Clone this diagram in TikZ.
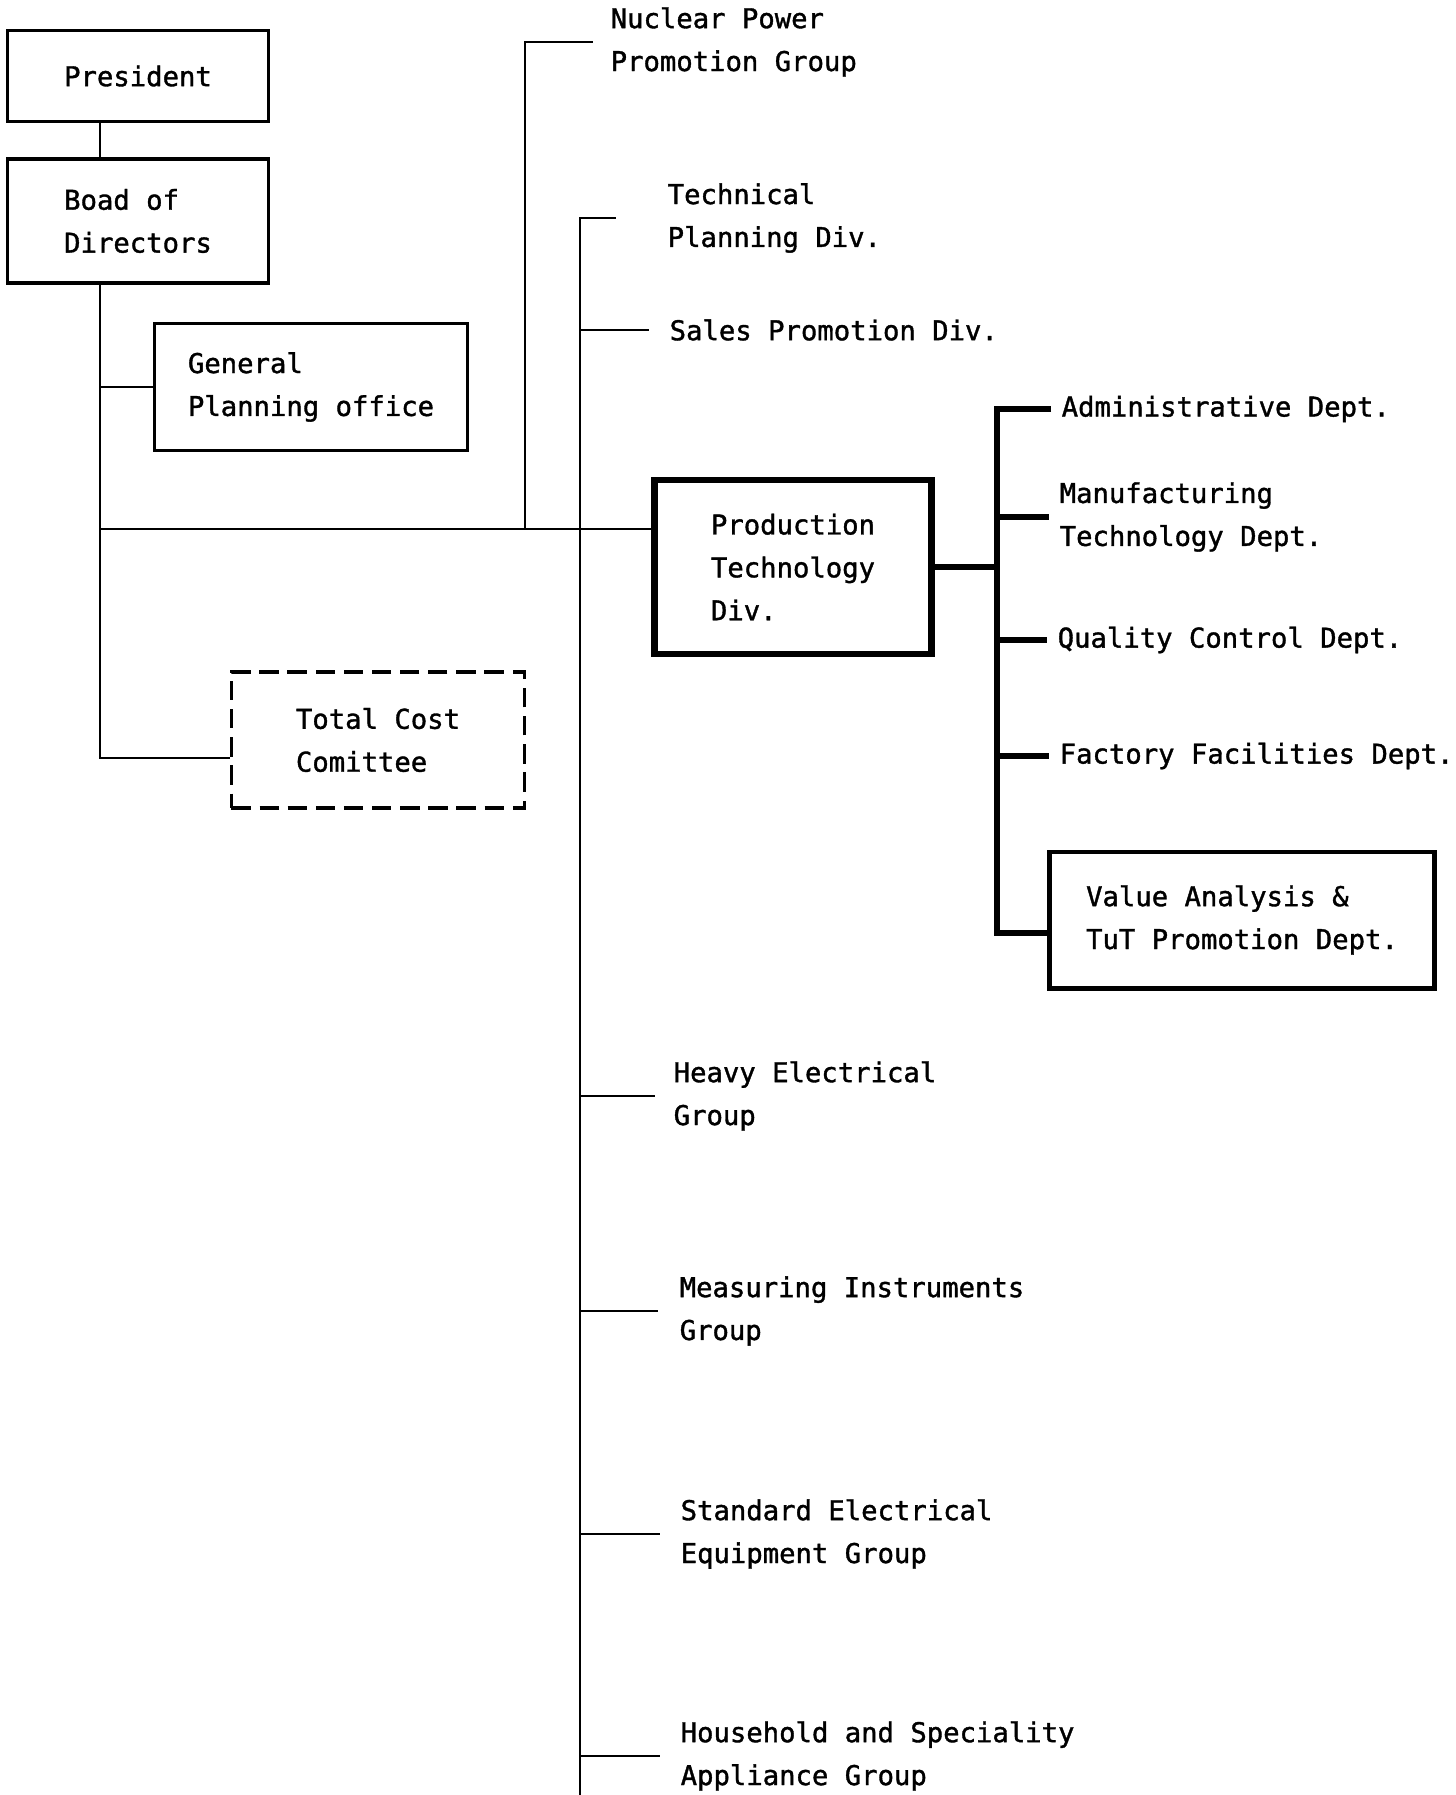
\documentclass[tikz,border=0pt]{standalone}
\usepackage{fontspec}
\setmonofont[UprightFeatures={FakeBold=1.3}]{DejaVu Sans Mono}
\usetikzlibrary{positioning,calc}

\begin{document}
\begin{tikzpicture}[
  x=0.01cm, y=-0.01cm,
  font=\ttfamily\fontsize{7.75}{12.2}\selectfont,
  box/.style={draw, line width=1pt, align=left, inner sep=0pt},
  bigbox/.style={box, line width=1.8pt},
  dashbox/.style={box, line width=1pt, dash pattern=on 5.5pt off 2.5pt},
  lbl/.style={anchor=west, inner sep=0pt, align=left},
  conn/.style={line width=0.7pt},
  thickconn/.style={line width=1.8pt, line join=miter}
]
\useasboundingbox (0,0) rectangle (1455,1795);

% Head of the company
\node[box, minimum width=2.61cm, minimum height=0.91cm] (president) at (138,76) {President};
\node[box, minimum width=2.61cm, minimum height=1.24cm] (board) at (138,221) {Boad of\\Directors};
\node[box, minimum width=3.13cm, minimum height=1.27cm] (general) at (311,387) {General\\Planning office};
\node[dashbox, minimum width=2.93cm, minimum height=1.36cm] (total) at (378,740) {Total Cost\\Comittee};

% Production technology division
\node[bigbox, minimum width=2.77cm, minimum height=1.74cm] (prod) at (793,567) {Production\\Technology\\Div.};
\node[box, line width=1.4pt, minimum width=3.84cm, minimum height=1.36cm] (va) at (1242,920) {Value Analysis \&\\TuT Promotion Dept.};

% Divisions and groups
\node[lbl] (nuclear) at (610,42) {Nuclear Power\\Promotion Group};
\node[lbl] (techplan) at (667,218) {Technical\\Planning Div.};
\node[lbl] (sales) at (669,330) {Sales Promotion Div.};
\node[lbl] (heavyel) at (673,1096) {Heavy Electrical\\Group};
\node[lbl] (measuring) at (679,1311) {Measuring Instruments\\Group};
\node[lbl] (standard) at (680,1534) {Standard Electrical\\Equipment Group};
\node[lbl] (household) at (680,1756) {Household and Speciality\\Appliance Group};

% Departments
\node[lbl] (admin) at (1061,409) {Administrative Dept.};
\node[lbl] (manuf) at (1059,517) {Manufacturing\\Technology Dept.};
\node[lbl] (quality) at (1057,640) {Quality Control Dept.};
\node[lbl] (factory) at (1059,756) {Factory Facilities Dept.};

% Trunk lines
\coordinate (spine) at (100,0);
\coordinate (mainrow) at (0,529);
\coordinate (nuctrunk) at (525,0);
\coordinate (grptrunk) at (580,1800);
\coordinate (depttrunk) at (997,0);
\coordinate (tcin) at ($(total.west)+(0,18)$);
\coordinate (vain) at ($(va.west)+(0,13)$);

\draw[conn] (president.south -| spine) -- (board.north -| spine);
\draw[conn] (board.south -| spine) -- (spine |- tcin) -- (tcin);
\draw[conn] (spine |- general.west) -- (general.west);
\draw[conn] (spine |- mainrow) -- (prod.west |- mainrow);

\draw[conn] (nuctrunk |- mainrow) -- (nuctrunk |- nuclear.west) -- ([xshift=-0.17cm]nuclear.west);
\draw[conn] ([xshift=-0.51cm]techplan.west) -- (grptrunk |- techplan.west) -- (grptrunk);
\draw[conn] (grptrunk |- sales.west) -- ([xshift=-0.2cm]sales.west);
\draw[conn] (grptrunk |- heavyel.west) -- ([xshift=-0.18cm]heavyel.west);
\draw[conn] (grptrunk |- measuring.west) -- ([xshift=-0.21cm]measuring.west);
\draw[conn] (grptrunk |- standard.west) -- ([xshift=-0.2cm]standard.west);
\draw[conn] (grptrunk |- household.west) -- ([xshift=-0.2cm]household.west);

% Department branches
\draw[thickconn] (prod.east) -- (depttrunk |- prod.east);
\draw[thickconn] ([xshift=-0.1cm]admin.west) -- (depttrunk |- admin.west) -- (depttrunk |- vain) -- (vain);
\draw[thickconn] (depttrunk |- manuf.west) -- ([xshift=-0.1cm]manuf.west);
\draw[thickconn] (depttrunk |- quality.west) -- ([xshift=-0.1cm]quality.west);
\draw[thickconn] (depttrunk |- factory.west) -- ([xshift=-0.1cm]factory.west);
\end{tikzpicture}
\end{document}
